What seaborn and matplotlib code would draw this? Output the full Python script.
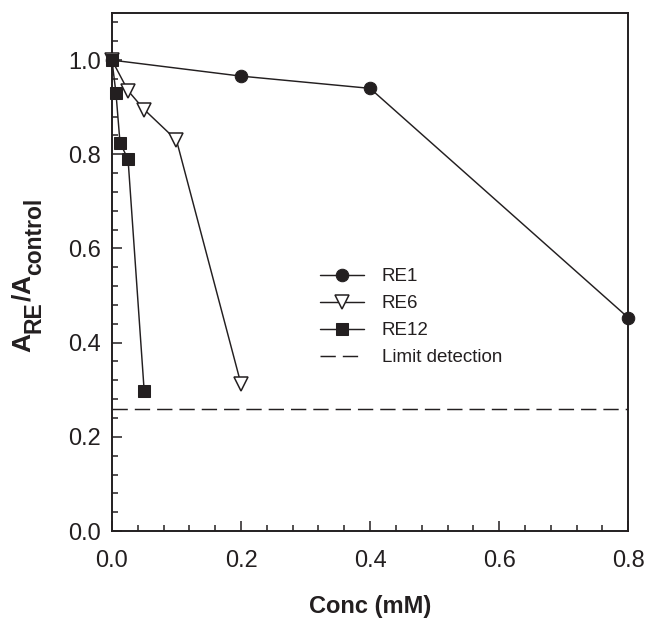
import matplotlib
matplotlib.use("Agg")
import matplotlib.pyplot as plt
from matplotlib.transforms import IdentityTransform
import seaborn as sns
import pandas as pd
from matplotlib.ticker import MultipleLocator

# Data
re1_conc = [0.0, 0.2, 0.4, 0.8]
re1_vals = [1.0, 0.966, 0.940, 0.453]
re6_conc = [0.0, 0.025, 0.05, 0.1, 0.2]
re6_vals = [1.0, 0.935, 0.895, 0.830, 0.312]
re12_conc = [0.0, 0.00625, 0.0125, 0.025, 0.05]
re12_vals = [1.0, 0.930, 0.825, 0.789, 0.297]
limit_detection = 0.26
x_ticks = [0.0, 0.2, 0.4, 0.6, 0.8]
y_ticks = [0.0, 0.2, 0.4, 0.6, 0.8, 1.0]

sns.set_theme(style="ticks")
plt.rcParams['font.family'] = ['Liberation Sans', 'DejaVu Sans']

fig = plt.figure(figsize=(6.47, 6.20), dpi=100)
ax = fig.add_axes([0.173, 0.1435, 0.798, 0.8355])

c = '#231f20'
common = dict(color=c, linewidth=1.05, markeredgecolor=c,
              estimator=None, sort=False, ax=ax, clip_on=False)

df1 = pd.DataFrame({'x': re1_conc, 'y': re1_vals})
df6 = pd.DataFrame({'x': re6_conc, 'y': re6_vals})
df12 = pd.DataFrame({'x': re12_conc, 'y': re12_vals})

sns.lineplot(data=df1, x='x', y='y', marker='o', markerfacecolor=c,
             markersize=9, label='RE1', zorder=3, **common)
sns.lineplot(data=df6, x='x', y='y', marker='v', markerfacecolor='white',
             markeredgewidth=1.1, markersize=9.5, label='RE6', zorder=4, **common)
sns.lineplot(data=df12, x='x', y='y', marker='s', markerfacecolor=c,
             markersize=8.5, label='RE12', zorder=5, **common)
ax.axhline(limit_detection, color=c, linewidth=1.05, dashes=(10.5, 4.8),
           label='Limit detection', zorder=1)

ax.set_xlim(0, 0.8)
ax.set_ylim(0, 1.1)
ax.set_xticks(x_ticks)
ax.set_xticklabels([f'{v:.1f}' for v in x_ticks])
ax.set_yticks(y_ticks)
ax.set_yticklabels([f'{v:.1f}' for v in y_ticks])
ax.xaxis.set_minor_locator(MultipleLocator(0.04))
ax.yaxis.set_minor_locator(MultipleLocator(0.04))

ax.tick_params(which='both', direction='in', top=False, right=False,
               labelsize=17, color=c, labelcolor=c, width=1.1)
ax.tick_params(which='major', length=7)
ax.tick_params(which='minor', length=4)
ax.tick_params(axis='x', which='major', pad=14)
ax.tick_params(axis='y', which='major', pad=8)
for s in ax.spines.values():
    s.set_color(c)
    s.set_linewidth(1.4)

ax.set_xlabel('Conc (mM)', fontsize=17, fontweight='bold', color=c, labelpad=16.5)
ax.set_ylabel('')

leg = ax.legend(loc='upper left', bbox_to_anchor=(0.37, 0.54), frameon=False,
                fontsize=13.5, handlelength=2.35, labelspacing=0.53,
                handletextpad=0.95)
for t in leg.get_texts():
    t.set_color(c)

# Y label composed of pieces with large subscripts
renderer = fig.canvas.get_renderer()
pieces = [('A', 19, False), ('RE', 16.5, True), ('/', 19, False),
          ('A', 19, False), ('control', 16.5, True)]
ypos = 268
for s, fs, sub in pieces:
    xpos = 41 if sub else 30
    t = fig.text(xpos, ypos, s, transform=IdentityTransform(), rotation=90,
                 rotation_mode='anchor', ha='left', va='baseline',
                 fontsize=fs, fontweight='bold', color=c)
    bb = t.get_window_extent(renderer)
    ypos += bb.height

fig.savefig('out.png', dpi=100, facecolor='white')
